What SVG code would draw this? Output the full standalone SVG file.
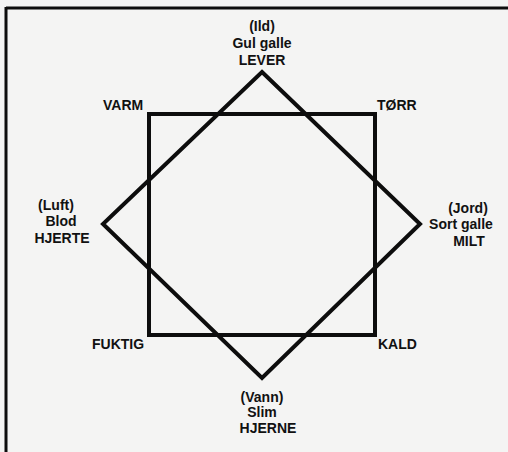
<svg xmlns="http://www.w3.org/2000/svg" width="508" height="452" viewBox="0 0 508 452">
<style>
.lbl{font-family:"Liberation Sans",Arial,Helvetica,sans-serif;font-size:14px;font-weight:bold;fill:#111;}
.c{text-anchor:middle;}
.shape{fill:none;stroke:#0d0d0d;stroke-width:4;stroke-linejoin:miter;}
.frame{stroke:#0d0d0d;stroke-width:3;}
</style>
<rect x="0" y="0" width="508" height="452" fill="#f4f4f3"/>
<g id="frame">
<line class="frame" x1="6" y1="8" x2="508" y2="8"/>
<line class="frame" x1="6" y1="7" x2="6" y2="452"/>
</g>
<g id="connectors">
<rect id="square" class="shape" x="149" y="114" width="226" height="221"/>
<polygon id="diamond" class="shape" points="262,72 420,224 262,378 103,224"/>
</g>
<g id="node-top">
<text class="lbl c" x="262" y="31">(Ild)</text>
<text class="lbl c" x="262" y="48">Gul galle</text>
<text class="lbl c" x="262" y="65">LEVER</text>
</g>
<g id="node-left">
<text class="lbl c" x="56" y="210">(Luft)</text>
<text class="lbl c" x="61" y="226">Blod</text>
<text class="lbl c" x="62" y="243">HJERTE</text>
</g>
<g id="node-right">
<text class="lbl c" x="468" y="213">(Jord)</text>
<text class="lbl c" x="461" y="229">Sort galle</text>
<text class="lbl c" x="469" y="246">MILT</text>
</g>
<g id="node-bottom">
<text class="lbl c" x="262" y="402">(Vann)</text>
<text class="lbl c" x="262" y="417">Slim</text>
<text class="lbl c" x="268" y="433">HJERNE</text>
</g>
<g id="node-varm"><text class="lbl" x="103" y="110">VARM</text></g>
<g id="node-torr"><text class="lbl" x="377" y="110">TØRR</text></g>
<g id="node-fuktig"><text class="lbl" x="92" y="349">FUKTIG</text></g>
<g id="node-kald"><text class="lbl" x="378" y="349">KALD</text></g>
</svg>
